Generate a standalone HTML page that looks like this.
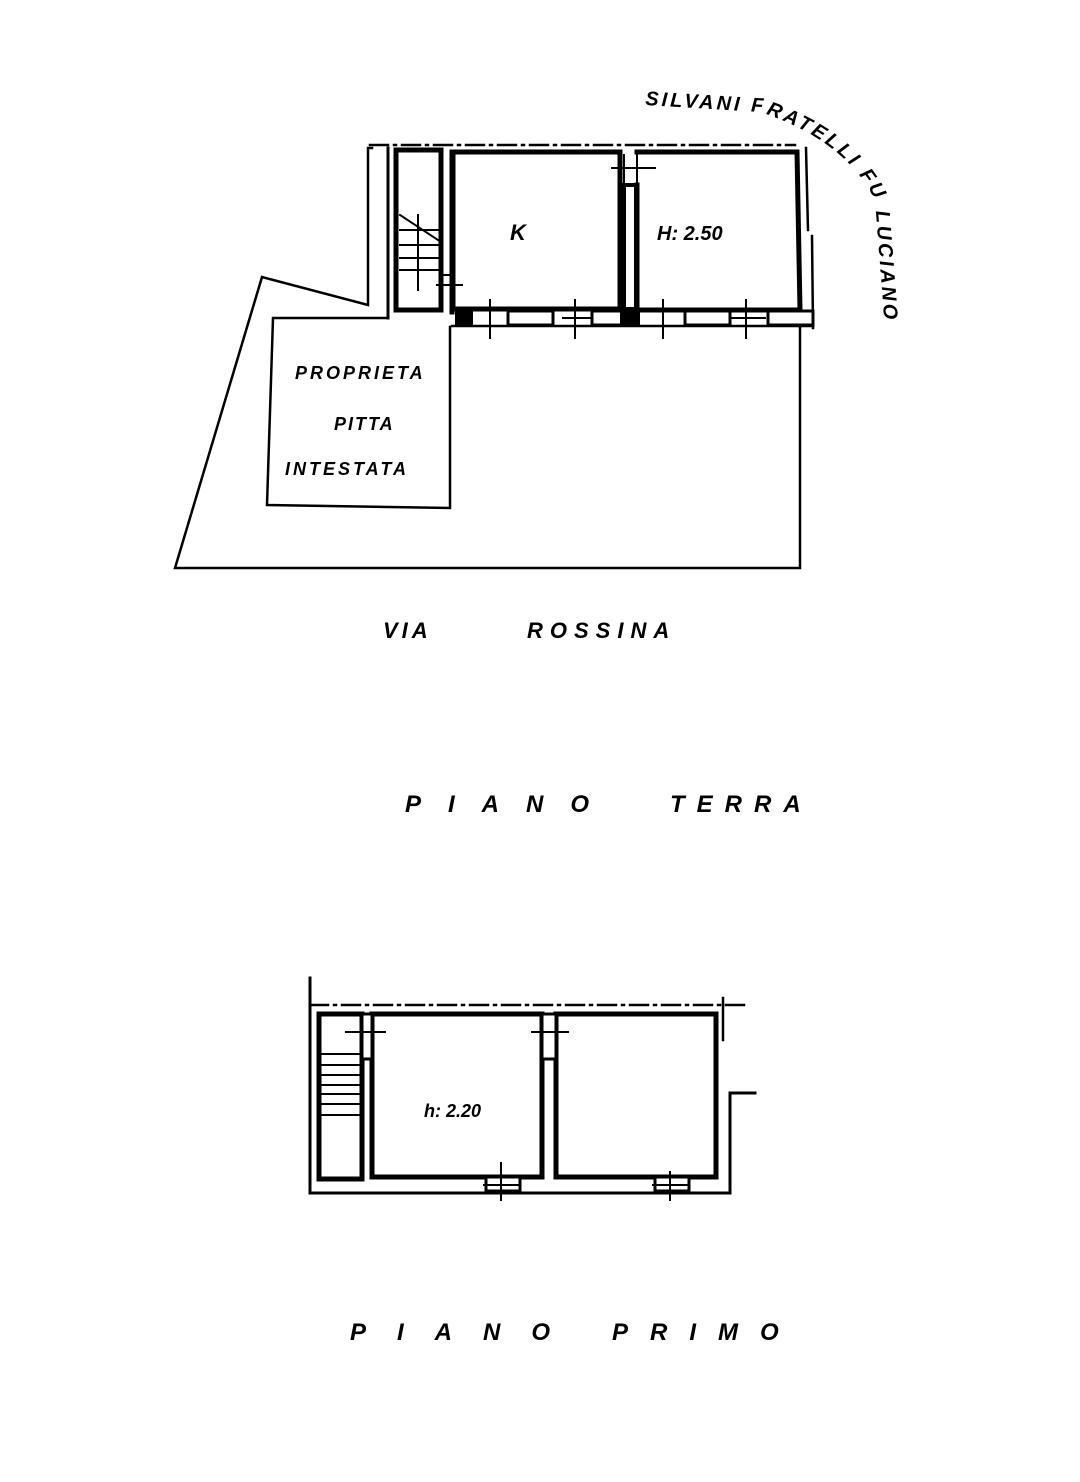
<!DOCTYPE html>
<html><head><meta charset="utf-8"><style>
html,body{margin:0;padding:0;background:#fff}
svg{display:block}
text{font-family:"Liberation Sans",sans-serif;font-style:italic;font-weight:bold;fill:#000}
</style></head><body>
<svg width="1080" height="1482" viewBox="0 0 1080 1482" xmlns="http://www.w3.org/2000/svg">
<g fill="none" stroke="#000" stroke-linecap="square">
<!-- TOP PLAN -->
<line x1="370" y1="145" x2="795" y2="145" stroke-width="2.5" stroke-dasharray="18,6,2,6"/>
<polyline points="372,148 368,148 368,305 262,277 175,568 800,568 800,325" stroke-width="2.5"/>
<line x1="388" y1="148" x2="388" y2="318" stroke-width="3"/>
<polyline points="388,318 273,318 267,505 450,508 450,327" stroke-width="2.5"/>
<rect x="396" y="150" width="45" height="160" stroke-width="5"/>
<line x1="400" y1="215" x2="438" y2="240" stroke-width="2"/>
<line x1="400" y1="230" x2="438" y2="230" stroke-width="2"/>
<line x1="400" y1="245" x2="438" y2="245" stroke-width="2"/>
<line x1="400" y1="258" x2="438" y2="258" stroke-width="2"/>
<line x1="400" y1="270" x2="438" y2="270" stroke-width="2"/>
<line x1="418" y1="215" x2="418" y2="290" stroke-width="2"/>
<line x1="437" y1="285" x2="462" y2="285" stroke-width="2"/>
<line x1="440" y1="275" x2="450" y2="275" stroke-width="2"/>
<line x1="452" y1="152" x2="452" y2="312" stroke-width="5"/>
<rect x="453" y="152" width="167" height="157" stroke-width="5"/>
<rect x="624" y="185" width="12" height="124" stroke-width="4"/>
<line x1="612" y1="168" x2="655" y2="168" stroke-width="2"/>
<line x1="624" y1="155" x2="624" y2="185" stroke-width="2"/>
<line x1="637" y1="155" x2="637" y2="185" stroke-width="2"/>
<polyline points="637,152 797,152 800,310 637,310 637,185" stroke-width="5"/>
<line x1="806" y1="148" x2="808" y2="230" stroke-width="2.5"/>
<line x1="812" y1="236" x2="813" y2="328" stroke-width="2.5"/>
<line x1="452" y1="326" x2="813" y2="326" stroke-width="2.5"/>
<rect x="455" y="311" width="18" height="14" fill="#000" stroke="none"/>
<rect x="508" y="311" width="45" height="14" stroke-width="3"/>
<rect x="592" y="311" width="40" height="14" stroke-width="3"/>
<rect x="620" y="311" width="20" height="14" fill="#000" stroke="none"/>
<rect x="685" y="311" width="45" height="14" stroke-width="3"/>
<rect x="768" y="311" width="45" height="14" stroke-width="3"/>
<line x1="490" y1="300" x2="490" y2="338" stroke-width="2"/>
<line x1="575" y1="300" x2="575" y2="338" stroke-width="2"/>
<line x1="563" y1="318" x2="590" y2="318" stroke-width="2"/>
<line x1="663" y1="300" x2="663" y2="338" stroke-width="2"/>
<line x1="746" y1="300" x2="746" y2="338" stroke-width="2"/>
<line x1="732" y1="318" x2="765" y2="318" stroke-width="2"/>

<!-- BOTTOM PLAN -->
<line x1="310" y1="1005" x2="745" y2="1005" stroke-width="2.5" stroke-dasharray="18,6,2,6"/>
<line x1="723" y1="998" x2="723" y2="1040" stroke-width="2.5"/>
<polyline points="310,978 310,1193 730,1193 730,1093 755,1093" stroke-width="3"/>
<rect x="319" y="1014" width="43" height="165" stroke-width="5"/>
<line x1="322" y1="1054" x2="360" y2="1054" stroke-width="2"/>
<line x1="322" y1="1065" x2="360" y2="1065" stroke-width="2"/>
<line x1="322" y1="1075" x2="360" y2="1075" stroke-width="2"/>
<line x1="322" y1="1085" x2="360" y2="1085" stroke-width="2"/>
<line x1="322" y1="1094" x2="360" y2="1094" stroke-width="2"/>
<line x1="322" y1="1104" x2="360" y2="1104" stroke-width="2"/>
<line x1="322" y1="1115" x2="360" y2="1115" stroke-width="2"/>
<rect x="372" y="1014" width="170" height="163" stroke-width="5"/>
<rect x="556" y="1014" width="160" height="163" stroke-width="5"/>
<rect x="362" y="1014" width="10" height="45" fill="#fff" stroke="#000" stroke-width="3"/>
<rect x="542" y="1014" width="14" height="45" fill="#fff" stroke="#000" stroke-width="3"/>
<line x1="346" y1="1032" x2="385" y2="1032" stroke-width="2"/>
<line x1="532" y1="1032" x2="568" y2="1032" stroke-width="2"/>
<rect x="486" y="1177" width="34" height="14" fill="#fff" stroke-width="3"/>
<rect x="655" y="1177" width="34" height="14" fill="#fff" stroke-width="3"/>
<line x1="501" y1="1163" x2="501" y2="1200" stroke-width="2"/>
<line x1="670" y1="1172" x2="670" y2="1200" stroke-width="2"/>
<line x1="484" y1="1185" x2="520" y2="1185" stroke-width="2"/>
<line x1="653" y1="1185" x2="689" y2="1185" stroke-width="2"/>
</g>

<text x="510" y="240" font-size="22">K</text>
<text x="657" y="240" font-size="20">H: 2.50</text>
<text x="295" y="379" font-size="18" letter-spacing="3">PROPRIETA</text>
<text x="334" y="430" font-size="18" letter-spacing="2">PITTA</text>
<text x="285" y="475" font-size="18" letter-spacing="3">INTESTATA</text>
<text x="383" y="638" font-size="22" letter-spacing="4">VIA</text>
<text x="527" y="638" font-size="22" letter-spacing="7">ROSSINA</text>
<text x="405" y="812" font-size="24" font-weight="normal" letter-spacing="27">PIANO</text>
<text x="670" y="812" font-size="24" font-weight="normal" letter-spacing="12">TERRA</text>
<text x="424" y="1117" font-size="18">h: 2.20</text>
<text x="350" y="1340" font-size="24" font-weight="normal" letter-spacing="31">PIANO</text>
<text x="612" y="1340" font-size="24" font-weight="normal" letter-spacing="22">PRIMO</text>
<defs><path id="arc" d="M645,105 L760,112 Q845,140 875,200 L885,330"/></defs>
<text font-size="20" letter-spacing="3"><textPath href="#arc">SILVANI FRATELLI FU LUCIANO</textPath></text>
</svg>
</body></html>
